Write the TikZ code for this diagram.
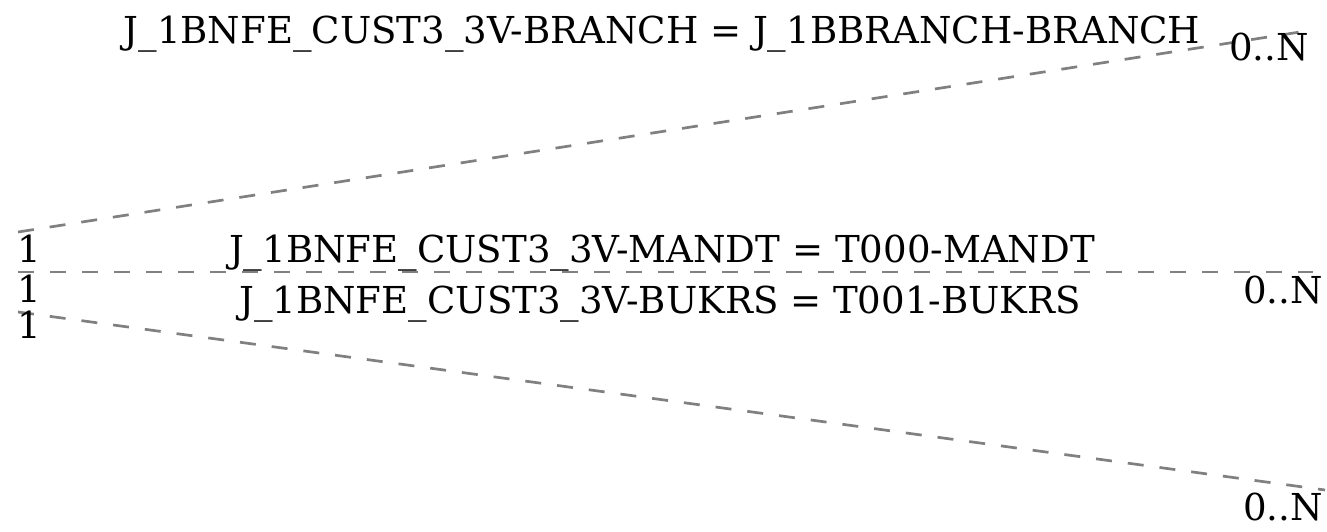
\documentclass[tikz,border=0pt]{standalone}
\usepackage{fontspec}
\setmainfont{DejaVu Serif}
\begin{document}
\begin{tikzpicture}[x=1pt,y=-1pt,
  rel/.style={draw=gray, line width=2.7pt, dash pattern=on 16pt off 16pt},
  lbl/.style={inner sep=0pt, anchor=base, font=\fontsize{37.1}{44}\selectfont}]
\useasboundingbox (0,0) rectangle (1327,531);
\coordinate (a1) at (18,232);
\coordinate (b1) at (1300,32);
\coordinate (a2) at (18,272);
\coordinate (b2) at (1313,272);
\coordinate (a3) at (18,312);
\coordinate (b3) at (1325,490);
\draw[rel] (a1) -- (b1);
\draw[rel] (a2) -- (b2);
\draw[rel] (a3) -- (b3);
\node[lbl] (t1) at (662,43) {J\_1BNFE\_CUST3\_3V-BRANCH = J\_1BBRANCH-BRANCH};
\node[lbl] (t2) at (662,262) {J\_1BNFE\_CUST3\_3V-MANDT = T000-MANDT};
\node[lbl] (t3) at (660,313) {J\_1BNFE\_CUST3\_3V-BUKRS = T001-BUKRS};
\node[lbl] (s1) at (29,262) {1};
\node[lbl] (s2) at (29,302) {1};
\node[lbl] (s3) at (29,338) {1};
\node[lbl] (e1) at (1269,60) {0..N};
\node[lbl] (e2) at (1283,303) {0..N};
\node[lbl] (e3) at (1283,520) {0..N};
\end{tikzpicture}
\end{document}
